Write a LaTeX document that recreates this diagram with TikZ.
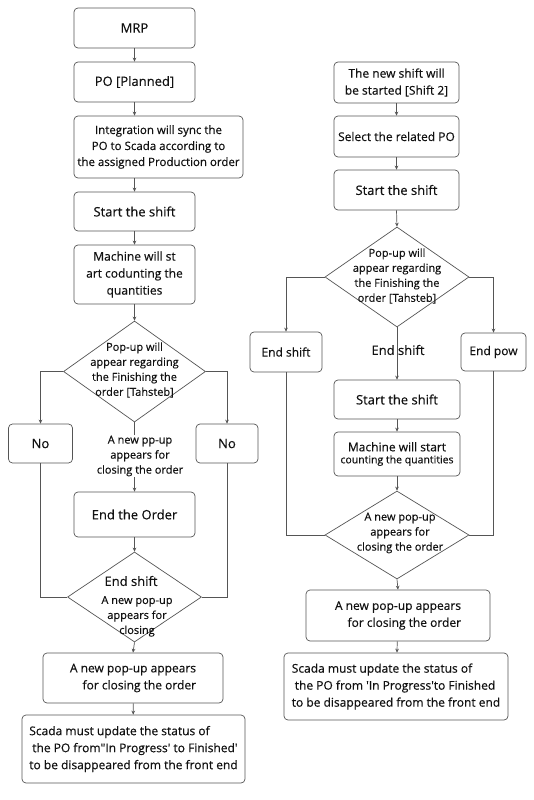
\documentclass[tikz,border=0pt]{standalone}
\usepackage{fontspec}
\setmainfont{Open Sans}[FakeBold=0.35]
\usetikzlibrary{shapes.geometric,arrows.meta}
\definecolor{linegray}{HTML}{555555}
\definecolor{txt}{HTML}{111111}
\newcommand{\fA}{\fontsize{13}{16}\selectfont}
\newcommand{\fB}{\fontsize{11.5}{16}\selectfont}
\newcommand{\fC}{\fontsize{11}{15}\selectfont}
\newcommand{\fD}{\fontsize{12}{17}\selectfont}
\begin{document}
\begin{tikzpicture}[x=1pt,y=-1pt,
  box/.style={draw=linegray, rounded corners=4pt, line width=0.7pt, inner sep=1pt, align=center, text=txt},
  dia/.style={draw=linegray, diamond, inner sep=0pt, line width=0.7pt},
  lbl/.style={inner sep=0pt, align=center, text=txt},
  arr/.style={draw=linegray, line width=0.7pt, -{Stealth[length=4pt,width=3.6pt]}},
  ln/.style={draw=linegray, line width=0.7pt}]
\useasboundingbox (0,0) rectangle (533,800);
\fill[white] (0,0) rectangle (533,800);

% ---------------- left column ----------------
\node[box, minimum width=121pt, minimum height=40pt, font=\fA] (mrp) at (134.5,28) {MRP};
\node[box, minimum width=121pt, minimum height=40pt, font=\fA] (po) at (134.5,82) {PO [Planned]};
\node[box, minimum width=169pt, minimum height=62pt, font=\fB] (integ) at (158.5,147) {Integration will sync the\\PO to Scada according to\\the assigned Production order};
\node[box, minimum width=121pt, minimum height=39pt, font=\fA] (start) at (134.5,211.5) {Start the shift};
\node[box, minimum width=121pt, minimum height=59pt, font=\fD] (mach) at (134.5,274.5) {Machine will st\\art codunting the\\quantities};
\node[dia, minimum width=142pt, minimum height=101pt] (d1) at (134.5,371.5) {};
\node[lbl, font=\fC] (d1t) at (134.5,370) {Pop-up will\\appear regarding\\the Finishing the\\order [Tahsteb]};
\node[box, minimum width=64pt, minimum height=39pt, font=\fA] (noL) at (40.5,443.5) {No};
\node[box, minimum width=62pt, minimum height=39pt, font=\fA] (noR) at (227,443.5) {No};
\node[box, minimum width=121pt, minimum height=45pt, font=\fA] (endo) at (134.5,514.5) {End the Order};
\node[dia, minimum width=134pt, minimum height=90pt] (d2) at (134.5,597) {};
\node[box, minimum width=180pt, minimum height=50pt, font=\fD, align=right] (pop1) at (133,678) {A new pop-up appears\\for closing the order};
\node[box, minimum width=223pt, minimum height=68pt, font=\fD, align=left] (final1) at (133.5,749) {Scada must update the status of\\\hspace{3pt}the PO from\textquotedbl In Progress\textquotesingle\ to Finished\textquotesingle\\to be disappeared from the front end};

\draw[arr] (mrp) -- (po);
\draw[arr] (po.south) -- (po.south |- integ.north);
\draw[arr] (po.south |- integ.south) -- (start.north);
\draw[arr] (start) -- (mach);
\draw[arr] (mach.south) -- (d1.north);
\draw[arr] (d1.west) -| (noL.north);
\draw[arr] (d1.east) -| (noR.north);
\draw[arr] (d1.south) -- (endo.north);
\node[lbl, font=\fC, fill=white, inner sep=1pt] (mid1) at (140,456) {A new pp-up\\appears for\\closing the order};
\draw[arr] (endo.south) -- (d2.north);
\draw[ln] (noL.south) |- (d2.west);
\draw[ln] (noR.south) |- (d2.east);
\node[lbl, font=\fA] (d2a) at (131,581) {End shift};
\node[lbl, font=\fC, text depth=0pt] (d2b) at (137,615) {A new pop-up\\appears for\\closing};
\draw[arr] (d2.south) -- (pop1.north);
\draw[arr] (pop1) -- (final1);

% ---------------- right column ----------------
\node[box, minimum width=125pt, minimum height=41pt, font=\fD] (ns) at (396.5,82.5) {The new shift will\\be started [Shift 2]};
\node[box, minimum width=125pt, minimum height=41pt, font=\fD] (sel) at (396.5,136.5) {Select the related PO};
\node[box, minimum width=125pt, minimum height=40pt, font=\fA] (st2) at (396.5,190) {Start the shift};
\node[dia, minimum width=144pt, minimum height=100pt] (d3) at (397,277) {};
\node[lbl, font=\fC] (d3t) at (397,276) {Pop-up will\\appear regarding\\the Finishing the\\order [Tahsteb]};
\node[box, minimum width=72pt, minimum height=40pt, font=\fD] (esL) at (286,352) {End shift};
\node[box, minimum width=65pt, minimum height=38pt, font=\fD] (epow) at (493.5,352) {End pow};
\node[box, minimum width=126pt, minimum height=39pt, font=\fA] (st3) at (397,399.5) {Start the shift};
\node[box, minimum width=126pt, minimum height=44pt] (mach2) at (397,454) {{\fD Machine will start}\\{\fontsize{10.5}{16}\selectfont counting the quantities}};
\node[dia, minimum width=144pt, minimum height=88pt] (d4) at (397,535) {};
\node[lbl, font=\fC] (d4t) at (400,533) {A new pop-up\\appears for\\closing the order};
\node[box, minimum width=184pt, minimum height=51pt, font=\fD, align=right] (pop2) at (398,615.5) {A new pop-up appears\\for closing the order};
\node[box, minimum width=224pt, minimum height=67pt, font=\fD, align=left] (final2) at (396,686.5) {Scada must update the status of\\\hspace{3pt}the PO from \textquotesingle In Progress\textquotesingle to Finished\\to be disappeared from the front end};

\draw[arr] (ns) -- (sel);
\draw[arr] (sel) -- (st2);
\draw[arr] (st2.south) -- (d3.north);
\draw[arr] (d3.west) -| (esL.north);
\draw[arr] (d3.east) -| (epow.north);
\draw[arr] (d3.south) -- (st3.north);
\node[lbl, font=\fA] (mid2) at (398,350) {End shift};
\draw[arr] (st3) -- (mach2);
\draw[arr] (mach2.south) -- (d4.north);
\draw[ln] (esL.south) |- (d4.west);
\draw[ln] (epow.south) |- (d4.east);
\draw[arr] (d4.south) -- (pop2.north);
\draw[arr] (pop2) -- (final2);
\end{tikzpicture}
\end{document}
